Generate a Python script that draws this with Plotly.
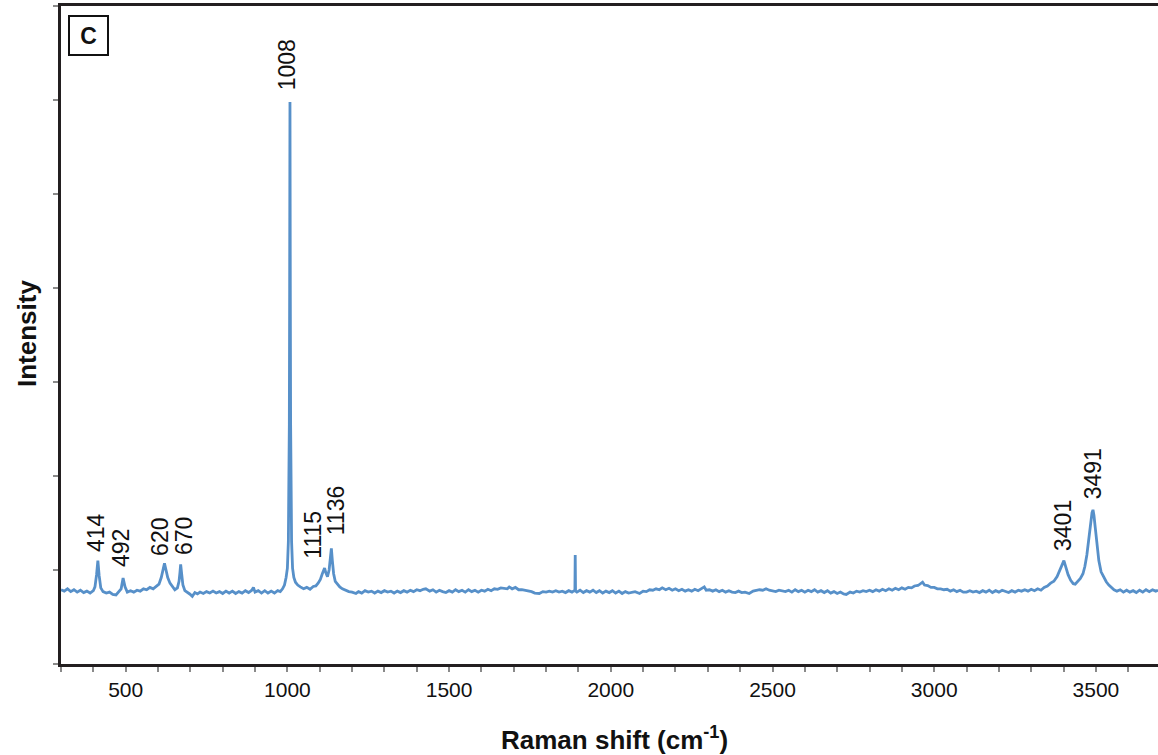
import plotly.graph_objects as go

# Raman spectrum (intensity in arbitrary units, 0-7 axis)
wavenumber = [
    300, 310, 320, 330, 340, 350, 360, 370, 380, 390, 400,
    405, 410, 414, 418, 423,
    430, 440, 450, 460, 470, 480, 486, 492, 498,
    505, 515, 525, 535, 545, 555, 565, 575, 585, 595, 603, 610, 616, 620, 624, 630, 637, 645, 652,
    660, 665, 668, 670, 673, 677, 683, 690, 698, 706, 714, 722, 730, 740, 750, 760, 770, 780, 790,
    800, 810, 820, 830, 840, 850, 860, 870, 880, 890, 895, 900, 910, 920, 930, 940, 950, 960, 970,
    978, 985, 991, 996, 1000, 1003, 1005, 1006, 1007, 1008, 1009, 1010, 1011, 1013, 1016, 1020,
    1025, 1032, 1040, 1050, 1060, 1070, 1080, 1088, 1095, 1102, 1108, 1112, 1115, 1119, 1124,
    1129, 1132, 1136, 1139, 1143, 1148, 1155, 1162, 1170, 1180, 1190, 1200, 1212, 1220, 1230,
    1240, 1250, 1260, 1270, 1280, 1290, 1300, 1310, 1320, 1330, 1340, 1350, 1360, 1370, 1380,
    1390, 1400, 1410, 1420, 1428, 1440, 1450, 1460, 1470, 1480, 1490, 1500, 1510, 1520, 1530,
    1540, 1550, 1560, 1570, 1580, 1590, 1600, 1610, 1620, 1630, 1640, 1650, 1660, 1670, 1680,
    1686, 1695, 1705, 1715, 1725, 1735, 1745, 1755, 1765, 1779, 1790, 1800, 1810, 1820, 1830,
    1840, 1850, 1860, 1870, 1880, 1887, 1889, 1890, 1891, 1895, 1905, 1915, 1925, 1935, 1945,
    1955, 1965, 1975, 1985, 1995, 2005, 2015, 2025, 2035, 2045, 2055, 2065, 2075, 2089, 2100,
    2110, 2120, 2130, 2140, 2150, 2159, 2170, 2180, 2190, 2200, 2210, 2220, 2230, 2240, 2250,
    2260, 2270, 2280, 2289, 2295, 2305, 2315, 2325, 2335, 2345, 2355, 2365, 2375, 2385, 2395,
    2405, 2415, 2428, 2440, 2450, 2460, 2470, 2480, 2490, 2500, 2510, 2520, 2530, 2540, 2550,
    2560, 2570, 2580, 2590, 2600, 2610, 2620, 2630, 2640, 2650, 2660, 2670, 2680, 2690, 2700,
    2710, 2720, 2728, 2740, 2750, 2760, 2770, 2780, 2790, 2800, 2810, 2820, 2830, 2840, 2850,
    2860, 2870, 2880, 2890, 2900, 2910, 2920, 2930, 2939, 2950, 2958, 2964, 2970, 2980, 2990,
    3000, 3010, 3020, 3030, 3040, 3050, 3060, 3070, 3080, 3090, 3100, 3110, 3120, 3130, 3140,
    3150, 3160, 3170, 3180, 3190, 3200, 3210, 3220, 3230, 3240, 3250, 3260, 3270, 3280, 3290,
    3300, 3310, 3320, 3330, 3340, 3350, 3360, 3370, 3380, 3388, 3395, 3401, 3407, 3414, 3422,
    3430, 3436, 3444, 3452, 3460, 3466, 3472, 3478, 3484, 3488, 3491, 3494, 3498, 3503, 3509,
    3516, 3524, 3532, 3540, 3548, 3556, 3565, 3575, 3585, 3595, 3605, 3615, 3625, 3635, 3645,
    3655, 3665, 3675, 3685, 3692,
]

intensity = [
    0.79, 0.775, 0.80, 0.77, 0.79, 0.765, 0.785, 0.76, 0.775, 0.755, 0.78,
    0.82, 0.95, 1.10, 0.94, 0.81,
    0.77, 0.755, 0.765, 0.74, 0.735, 0.77, 0.80, 0.915, 0.82,
    0.765, 0.78, 0.765, 0.785, 0.775, 0.80, 0.79, 0.815, 0.80, 0.83, 0.85, 0.92, 1.00, 1.07, 1.01, 0.92, 0.86, 0.82, 0.79,
    0.81, 0.88, 0.98, 1.06, 0.96, 0.84, 0.78, 0.765, 0.745, 0.72, 0.76, 0.745, 0.765, 0.75, 0.77, 0.755, 0.775, 0.755, 0.77,
    0.75, 0.775, 0.755, 0.775, 0.75, 0.77, 0.755, 0.78, 0.76, 0.785, 0.815, 0.765, 0.78, 0.755, 0.78, 0.755, 0.775, 0.755, 0.78,
    0.77, 0.80, 0.84, 0.92, 1.02, 1.30, 1.85, 2.55, 4.00, 5.98, 4.00, 2.55, 1.85, 1.30, 1.02, 0.92,
    0.87, 0.84, 0.82, 0.80, 0.815, 0.795, 0.825, 0.83, 0.86, 0.90, 0.96, 1.00, 1.02, 0.97, 0.93,
    1.00, 1.12, 1.23, 1.10, 0.96, 0.88, 0.845, 0.82, 0.80, 0.785, 0.77, 0.765, 0.75, 0.77, 0.755,
    0.78, 0.765, 0.775, 0.755, 0.775, 0.76, 0.78, 0.765, 0.775, 0.755, 0.775, 0.76, 0.78, 0.765, 0.785,
    0.77, 0.79, 0.78, 0.795, 0.80, 0.775, 0.79, 0.765, 0.785, 0.77, 0.76, 0.78, 0.765, 0.79, 0.77,
    0.785, 0.765, 0.79, 0.77, 0.785, 0.765, 0.785, 0.775, 0.795, 0.78, 0.80, 0.795, 0.81, 0.805, 0.80,
    0.82, 0.80, 0.815, 0.79, 0.79, 0.785, 0.775, 0.77, 0.755, 0.75, 0.77, 0.765, 0.775, 0.765, 0.78,
    0.765, 0.775, 0.76, 0.78, 0.765, 0.78, 0.77, 1.16, 0.775, 0.765, 0.785, 0.76, 0.78, 0.765, 0.785,
    0.76, 0.78, 0.755, 0.775, 0.76, 0.78, 0.755, 0.775, 0.75, 0.77, 0.755, 0.76, 0.77, 0.75, 0.775,
    0.77, 0.79, 0.785, 0.80, 0.79, 0.81, 0.79, 0.805, 0.785, 0.80, 0.78, 0.795, 0.775, 0.79, 0.775,
    0.795, 0.78, 0.80, 0.82, 0.785, 0.79, 0.775, 0.79, 0.77, 0.785, 0.765, 0.78, 0.765, 0.76, 0.775,
    0.76, 0.765, 0.75, 0.775, 0.78, 0.79, 0.785, 0.80, 0.785, 0.78, 0.77, 0.785, 0.78, 0.77, 0.785,
    0.765, 0.79, 0.77, 0.785, 0.765, 0.785, 0.77, 0.79, 0.765, 0.78, 0.76, 0.78, 0.755, 0.77, 0.75,
    0.765, 0.745, 0.74, 0.765, 0.755, 0.775, 0.765, 0.78, 0.77, 0.785, 0.77, 0.79, 0.775, 0.795, 0.78,
    0.80, 0.785, 0.805, 0.79, 0.81, 0.795, 0.815, 0.81, 0.83, 0.835, 0.85, 0.87, 0.84, 0.835, 0.815,
    0.815, 0.80, 0.80, 0.79, 0.795, 0.775, 0.79, 0.77, 0.785, 0.765, 0.765, 0.78, 0.765, 0.775, 0.76,
    0.78, 0.765, 0.785, 0.76, 0.78, 0.765, 0.785, 0.77, 0.76, 0.78, 0.765, 0.785, 0.775, 0.79, 0.775,
    0.795, 0.78, 0.80, 0.785, 0.815, 0.83, 0.86, 0.88, 0.93, 0.99, 1.06, 1.10, 1.03, 0.95, 0.89,
    0.855, 0.85, 0.875, 0.91, 0.96, 1.04, 1.16, 1.33, 1.52, 1.61, 1.64, 1.58, 1.45, 1.26, 1.10,
    0.98, 0.92, 0.875, 0.84, 0.81, 0.79, 0.775, 0.79, 0.765, 0.785, 0.765, 0.78, 0.76, 0.785, 0.765,
    0.79, 0.77, 0.79, 0.775, 0.785,
]

peak_labels = ["414", "492", "620", "670", "1008", "1115", "1136", "3401", "3491"]
peak_positions = [414, 492, 620, 670, 1008, 1115, 1136, 3401, 3491]
label_xshift = [-2, -2, -4, 4, -3, -11, 5, -1, 0]   # pixel nudges, as in the figure
label_yshift = [7, 9, 6, 7, 10, 7, 11, 8, 9]

x_tick_values = list(range(300, 3701, 100))
x_tick_text = [str(v) if v % 500 == 0 else "" for v in x_tick_values]
y_tick_values = [0, 1, 2, 3, 4, 5, 6, 7]

FONT = "Liberation Sans, Arial, sans-serif"
LINE_COLOR = "#5790c9"
AXIS_COLOR = "#231f20"
TICK_COLOR = "#8a8a8a"

fig = go.Figure()
fig.add_trace(go.Scatter(
    x=wavenumber, y=intensity, mode="lines",
    line=dict(color=LINE_COLOR, width=2.8),
    hoverinfo="skip", showlegend=False,
))

annotations = []
for lab, pos, dx, dy in zip(peak_labels, peak_positions, label_xshift, label_yshift):
    idx = wavenumber.index(pos)
    annotations.append(dict(
        x=pos, y=intensity[idx], xref="x", yref="y",
        text=lab, textangle=-90, showarrow=False,
        xanchor="center", yanchor="bottom", xshift=dx, yshift=dy,
        font=dict(family=FONT, size=23, color="#111"),
    ))

# panel letter
annotations.append(dict(
    x=0.0064, y=0.9863, xref="paper", yref="paper",
    xanchor="left", yanchor="top", showarrow=False,
    text="<b>C</b>", font=dict(family=FONT, size=23, color="#111"),
    bordercolor="#111", borderwidth=2, width=37, height=37, borderpad=0,
    bgcolor="white",
))
# axis titles
annotations.append(dict(
    x=0.505, y=-0.1125, xref="paper", yref="paper",
    xanchor="center", yanchor="middle", showarrow=False,
    text="<b>Raman shift (cm<sup>-1</sup>)</b>",
    font=dict(family=FONT, size=26, color="#111"),
))
annotations.append(dict(
    x=-0.031, y=0.503, xref="paper", yref="paper",
    xanchor="center", yanchor="middle", showarrow=False, textangle=-90,
    text="<b>Intensity</b>",
    font=dict(family=FONT, size=26, color="#111"),
))

fig.update_layout(
    width=1158, height=755,
    margin=dict(l=61, r=0, t=6, b=91),
    paper_bgcolor="white", plot_bgcolor="white",
    annotations=annotations,
    xaxis=dict(
        range=[300, 3692], tickvals=x_tick_values, ticktext=x_tick_text,
        ticks="outside", ticklen=5, tickwidth=2, tickcolor=TICK_COLOR,
        showline=True, linecolor=AXIS_COLOR, linewidth=2.5, mirror=True,
        showgrid=False, zeroline=False,
        tickfont=dict(family=FONT, size=21, color="#111"),
    ),
    yaxis=dict(
        range=[0, 7], tickvals=y_tick_values, showticklabels=False,
        ticks="outside", ticklen=5, tickwidth=2, tickcolor=TICK_COLOR,
        showline=True, linecolor=AXIS_COLOR, linewidth=2.5,
        showgrid=False, zeroline=False,
    ),
)

fig.write_html("out.html")
